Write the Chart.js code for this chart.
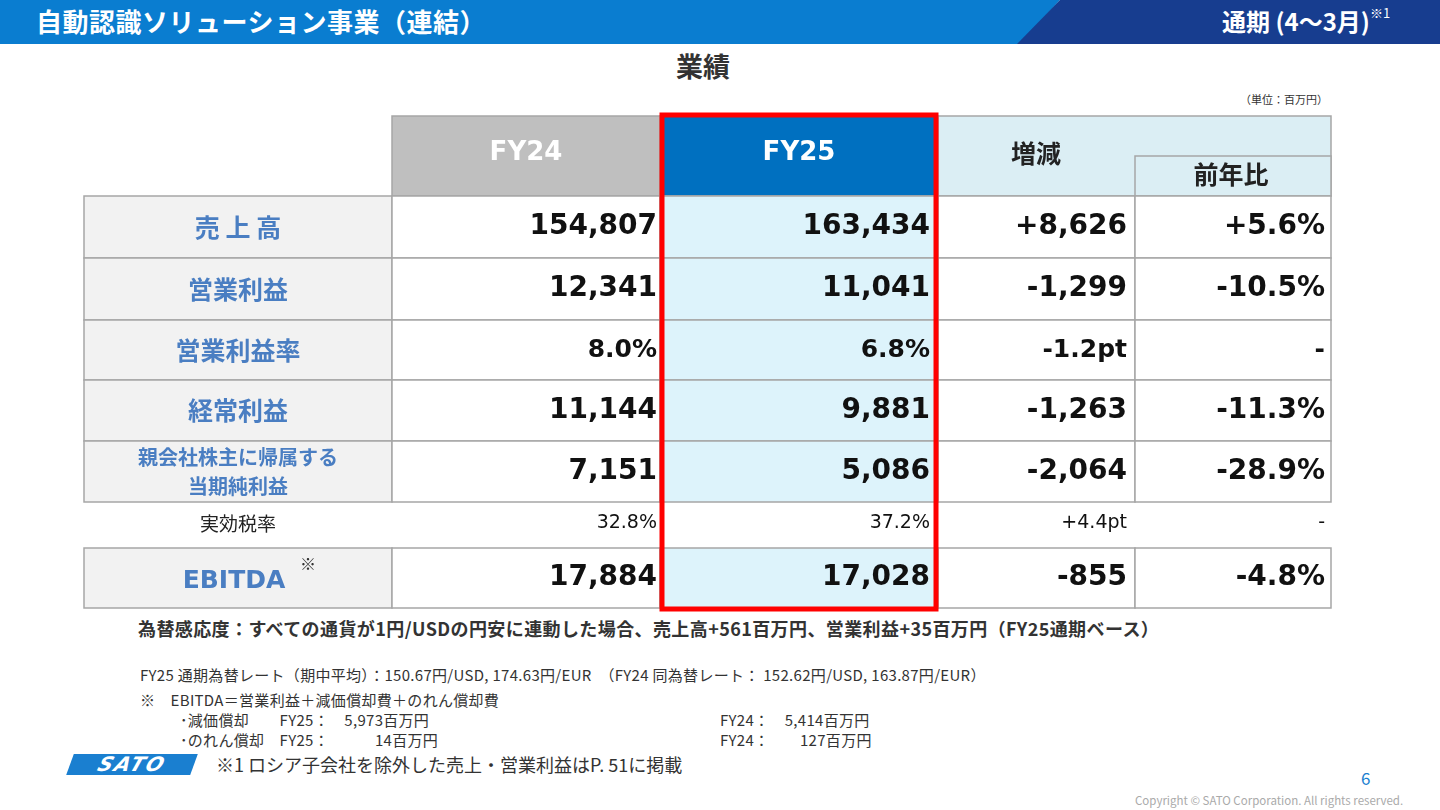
<!DOCTYPE html>
<html><head><meta charset="utf-8">
<script src="https://cdn.jsdelivr.net/npm/chart.js@4/dist/chart.umd.min.js"></script>
<style>
body{margin:0;width:1440px;height:810px;background:#fff;font-family:"Noto Sans CJK JP","DejaVu Sans",sans-serif;position:relative;overflow:hidden;color:#333}
.abs{position:absolute;white-space:nowrap}
#bar1{left:0;top:0;width:1060px;height:44px;background:#0a7dd0;clip-path:polygon(0 0,100% 0,1020px 100%,0 100%)}
#bar2{left:1017px;top:0;width:423px;height:44px;background:#173d8f;clip-path:polygon(43px 0,100% 0,100% 100%,0 100%)}
.small{font-size:15px;color:#333;letter-spacing:0.3px}
</style></head><body>
<div id="bar1" class="abs"></div><div id="bar2" class="abs"></div>
<div class="abs" style="left:36px;top:2px;color:#fff;font-size:26px;font-weight:700;letter-spacing:0.5px">自動認識ソリューション事業（連結）</div>
<div class="abs" style="left:1222px;top:3px;color:#fff;font-size:24px;font-weight:700">通期 (4～3月)<span style="font-size:13px;vertical-align:top;font-weight:400">※1</span></div>
<div class="abs" style="left:676px;top:46px;font-size:27px;font-weight:700;color:#333">業績</div>
<div class="abs" style="left:1240px;top:91px;font-size:11px">（単位：百万円）</div>
<div class="abs" style="left:80px;top:112px;width:1255px;height:500px"><canvas id="c"></canvas></div>
<div class="abs" style="left:138px;top:615px;font-size:18px;font-weight:700;color:#333;letter-spacing:0.4px">為替感応度：すべての通貨が1円/USDの円安に連動した場合、売上高+561百万円、営業利益+35百万円（FY25通期ベース）</div>
<div class="abs small" style="left:140px;top:664px">FY25 通期為替レート（期中平均）：150.67円/USD, 174.63円/EUR　（FY24 同為替レート： 152.62円/USD, 163.87円/EUR）</div>
<div class="abs small" style="left:140px;top:689px">※　EBITDA＝営業利益＋減価償却費＋のれん償却費</div>
<div class="abs small" style="left:180px;top:709px">･減価償却　　FY25：　5,973百万円</div>
<div class="abs small" style="left:180px;top:729px">･のれん償却　FY25：　　　14百万円</div>
<div class="abs small" style="left:720px;top:709px">FY24：　5,414百万円</div>
<div class="abs small" style="left:720px;top:729px">FY24：　　127百万円</div>
<div class="abs" style="left:70px;top:754px;width:124px;height:21px;background:#1a7fd0;transform:skewX(-20deg);color:#fff;font:italic 900 20px 'DejaVu Sans';text-align:center;line-height:21px;letter-spacing:2px">SATO</div>
<div class="abs" style="left:216px;top:751px;font-size:18px">※1 ロシア子会社を除外した売上・営業利益はP. 51に掲載</div>
<div class="abs" style="left:1361px;top:765px;font-size:17px;color:#1a7fd0">6</div>
<div class="abs" style="left:1135px;top:792px;font-size:11.5px;color:#aaa">Copyright © SATO Corporation. All rights reserved.</div>
<script>
const rowLabels=["売 上 高","営業利益","営業利益率","経常利益","親会社株主に帰属する\n当期純利益","実効税率","EBITDA"];
const fy24=["154,807","12,341","8.0%","11,144","7,151","32.8%","17,884"];
const fy25=["163,434","11,041","6.8%","9,881","5,086","37.2%","17,028"];
const diff=["+8,626","-1,299","-1.2pt","-1,263","-2,064","+4.4pt","-855"];
const yoy=["+5.6%","-10.5%","-","-11.3%","-28.9%","-","-4.8%"];
const headers=["","FY24","FY25","増減","前年比"];
// layout (style): column edges and row edges in px within table box
const colEdges=[0,308,576,854,1051,1247];
const rowEdges=[0,80,142,204,264,325,386,429,432,492];
const rowsMap=[1,2,3,4,5,6,8];
const plug={id:'tbl',afterDraw(ch){
 const c=ch.ctx,x=ch.scales.x,y=ch.scales.y;
 const X=v=>x.getPixelForValue(v),Y=v=>y.getPixelForValue(v);
 const rect=(x0,y0,x1,y1,fill,stroke)=>{c.fillStyle=fill;c.fillRect(X(x0),Y(y0),X(x1)-X(x0),Y(y1)-Y(y0));if(stroke){c.strokeStyle=stroke;c.lineWidth=1.5;c.strokeRect(X(x0),Y(y0),X(x1)-X(x0),Y(y1)-Y(y0));}};
 const txt=(s,xv,yv,font,col,al)=>{c.font=font;c.fillStyle=col;c.textAlign=al;c.textBaseline='middle';c.fillText(s,X(xv),Y(yv));};
 const g='#a6a6a6';
 rect(colEdges[1],0,colEdges[2],80,'#bfbfbf',g);
 rect(colEdges[2],0,colEdges[3],80,'#0070c0',g);
 rect(colEdges[3],0,colEdges[5],80,'#dbeef4',g);
 rect(colEdges[4],40,colEdges[5],80,'#dbeef4',g);
 txt(headers[1],(colEdges[1]+colEdges[2])/2,37,'bold 26px "DejaVu Sans"','#fff','center');
 txt(headers[2],(colEdges[2]+colEdges[3])/2,37,'bold 26px "DejaVu Sans"','#fff','center');
 txt(headers[3],952,37,'bold 25px "Noto Sans CJK JP"','#222','center');
 txt(headers[4],1147,58,'bold 25px "Noto Sans CJK JP"','#222','center');
 rowLabels.forEach((lab,i)=>{
  const e=rowsMap[i],y0=rowEdges[e],y1=rowEdges[e+1],ym=(y0+y1)/2;
  const plain=i===5;
  if(!plain){
   rect(0,y0,colEdges[1],y1,'#f2f2f2',g);
   rect(colEdges[1],y0,colEdges[2],y1,'#fff',g);
   rect(colEdges[2],y0,colEdges[3],y1,'#ddf3fb',g);
   rect(colEdges[3],y0,colEdges[4],y1,'#fff',g);
   rect(colEdges[4],y0,colEdges[5],y1,'#fff',g);
  }
  const lc='#4a7ec2';
  if(lab.includes('\n')){const p=lab.split('\n');txt(p[0],154,ym-14,'bold 20px "Noto Sans CJK JP"',lc,'center');txt(p[1],154,ym+15,'bold 20px "Noto Sans CJK JP"',lc,'center');}
  else if(i===6){txt(lab,150,ym+3,'bold 25px "DejaVu Sans"',lc,'center');txt('※',224,ym-14,'16px "Noto Sans CJK JP"','#333','center');}
  else if(plain) txt(lab,154,ym,'19px "Noto Sans CJK JP"','#222','center');
  else txt(lab,154,ym,'bold 25px "Noto Sans CJK JP"',lc,'center');
  const f=plain?'19px "DejaVu Sans"':(i===2?'bold 25px "DejaVu Sans"':'bold 28px "DejaVu Sans"');
  const col='#111';
  txt(fy24[i],colEdges[2]-3,ym,f,col,'right');
  txt(fy25[i],colEdges[3]-8,ym,f,col,'right');
  txt(diff[i],colEdges[4]-8,ym,f,col,'right');
  txt(yoy[i],colEdges[5]-6,ym,f,col,'right');
 });
 c.strokeStyle='#ff0000';c.lineWidth=5;
 c.strokeRect(X(colEdges[2]+2),Y(-1),X(colEdges[3]-2)-X(colEdges[2]+2),Y(493)-Y(-1));
}};
new Chart(document.getElementById('c'),{type:'scatter',data:{datasets:[{data:[]}]},plugins:[plug],
 options:{responsive:true,maintainAspectRatio:false,animation:false,layout:{padding:0},
 plugins:{legend:{display:false},tooltip:{enabled:false}},
 scales:{x:{type:'linear',min:-4,max:1251,display:false},y:{type:'linear',min:-4,max:496,reverse:true,display:false}}}});
</script></body></html>
